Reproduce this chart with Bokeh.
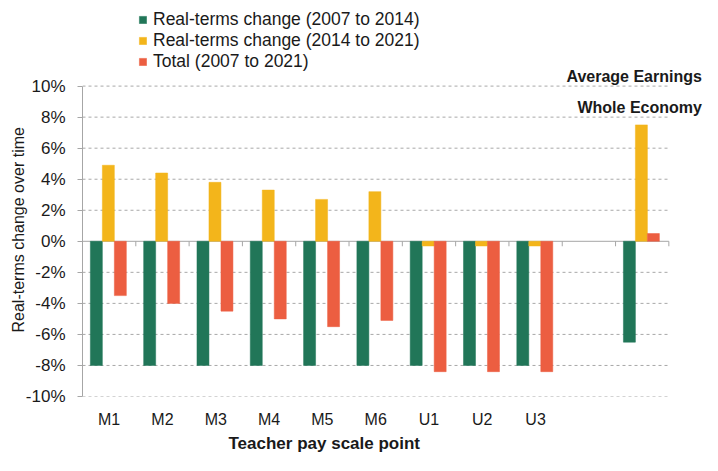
from bokeh.plotting import figure
from bokeh.models import (Range1d, FixedTicker, PrintfTickFormatter, Legend,
                          LegendItem, Label, Title, ColumnDataSource)
from bokeh.embed import file_html
from bokeh.resources import INLINE

nan = float("nan")

categories = ["M1", "M2", "M3", "M4", "M5", "M6", "U1", "U2", "U3", "", ""]
change_2007_2014 = [-8.0, -8.0, -8.0, -8.0, -8.0, -8.0, -8.0, -8.0, -8.0, nan, -6.5]
change_2014_2021 = [4.9, 4.4, 3.8, 3.3, 2.7, 3.2, -0.3, -0.3, -0.3, nan, 7.5]
total_2007_2021 = [-3.5, -4.0, -4.5, -5.0, -5.5, -5.1, -8.4, -8.4, -8.4, nan, 0.5]
series_names = ["Real-terms change (2007 to 2014)",
                "Real-terms change (2014 to 2021)",
                "Total (2007 to 2021)"]
colors = ["#217658", "#F3B51B", "#EC5E41"]
y_ticks = [-10, -8, -6, -4, -2, 0, 2, 4, 6, 8, 10]
side_label = ["Average Earnings", "Whole Economy"]

FONT = "Liberation Sans"
TEXT = "#1a1a1a"
AXIS = "#a6a6a6"

n = len(categories)
centers = [i + 0.5 for i in range(n)]
bar_w = 0.225
offsets = [-bar_w, 0.0, bar_w]
x_extra = 0.65    # room on the right for the side label
y_top = 15.0      # room above 10% for legend and side label

p = figure(frame_width=621, frame_height=388, output_backend="svg",
           toolbar_location=None,
           x_range=Range1d(0, n + x_extra),
           y_range=Range1d(y_ticks[0], y_top),
           min_border_left=82, min_border_right=8, min_border_top=8,
           min_border_bottom=67)
p.outline_line_color = None
p.background_fill_color = "white"
p.border_fill_color = "white"
p.xgrid.grid_line_color = None
p.ygrid.grid_line_color = None

# dashed gridlines over the category span only
grid_vals = [t for t in y_ticks if t != 0]
p.multi_line(xs=[[0, n] for _ in grid_vals], ys=[[t, t] for t in grid_vals],
             line_color="#a8a8a8", line_dash="3 3", line_width=1)

# y axis
p.yaxis.ticker = FixedTicker(ticks=y_ticks)
p.yaxis.bounds = (y_ticks[0], y_ticks[-1])
p.yaxis.formatter = PrintfTickFormatter(format="%d%%")
p.yaxis.axis_line_color = AXIS
p.yaxis.major_tick_line_color = AXIS
p.yaxis.major_tick_out = 5
p.yaxis.major_tick_in = 0
p.yaxis.minor_tick_line_color = None
p.yaxis.major_label_standoff = 12
p.yaxis.major_label_text_font = FONT
p.yaxis.major_label_text_font_size = "17px"
p.yaxis.major_label_text_color = TEXT

ytitle = Title(text="Real-terms change over time", align="left", offset=64,
               standoff=-8, text_font=FONT, text_font_size="16px",
               text_font_style="normal", text_color=TEXT)
p.add_layout(ytitle, "left")

# x axis: labels low, no line/ticks
p.xaxis.ticker = FixedTicker(ticks=centers)
p.xaxis.major_label_overrides = {c: lab for c, lab in zip(centers, categories)}
p.xaxis.axis_line_color = None
p.xaxis.major_tick_line_color = None
p.xaxis.minor_tick_line_color = None
p.xaxis.major_label_standoff = 8
p.xaxis.major_label_text_font = FONT
p.xaxis.major_label_text_font_size = "16px"
p.xaxis.major_label_text_color = TEXT

xtitle = Title(text="Teacher pay scale point", align="left", offset=146,
               standoff=2, text_font=FONT, text_font_size="17px",
               text_font_style="bold", text_color=TEXT)
p.add_layout(xtitle, "below")

# zero axis line with category boundary ticks
p.line(x=[0, n], y=[0, 0], line_color=AXIS, line_width=1)
bounds = list(range(n + 1))
p.segment(x0=bounds, x1=bounds, y0=[0] * len(bounds), y1=[-0.32] * len(bounds),
          line_color=AXIS, line_width=1)

renderers = []
for vals, off, col in zip([change_2007_2014, change_2014_2021, total_2007_2021],
                          offsets, colors):
    src = ColumnDataSource(dict(x=[c + off - 0.015 for c in centers], top=vals))
    r = p.vbar(x="x", top="top", bottom=0, width=bar_w, source=src,
               fill_color=col, line_color=col, line_width=0.5)
    renderers.append(r)

legend = Legend(items=[LegendItem(label=nm, renderers=[r])
                       for nm, r in zip(series_names, renderers)],
                location=(56, 324))
legend.padding = 0
legend.margin = 0
legend.spacing = -2
legend.border_line_color = None
legend.background_fill_alpha = 0
legend.glyph_width = 9
legend.glyph_height = 9
legend.label_height = 19
legend.label_standoff = 6
legend.label_text_font = FONT
legend.label_text_font_size = "17.5px"
legend.label_text_color = TEXT
legend.label_text_baseline = "middle"
p.add_layout(legend)

for txt, yv in zip(side_label, [10.65, 8.65]):
    p.add_layout(Label(x=n + x_extra - 0.03, y=yv, text=txt, text_align="right",
                       text_baseline="middle", text_font=FONT,
                       text_font_size="16px", text_font_style="bold",
                       text_color=TEXT))

open("out.html", "w").write(file_html(p, INLINE))
